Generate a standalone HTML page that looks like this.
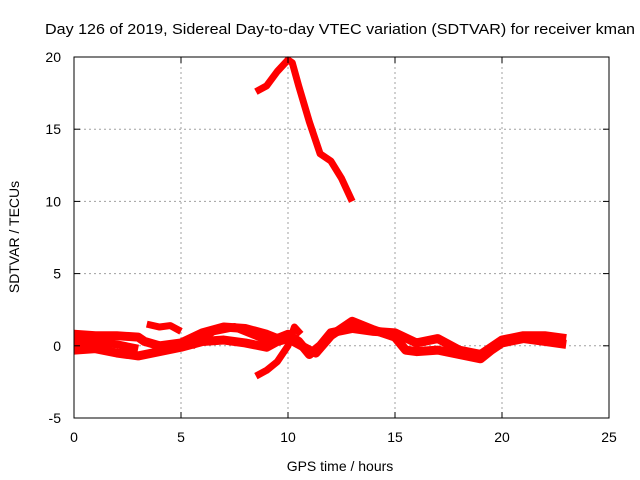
<!DOCTYPE html>
<html><head><meta charset="utf-8"><style>
body{margin:0;background:#fff;}
svg{display:block;font-family:"Liberation Sans",sans-serif;}
</style></head><body>
<svg id="chart" width="640" height="480">
<text x="45" y="34" font-size="15" textLength="590" lengthAdjust="spacingAndGlyphs">Day 126 of 2019, Sidereal Day-to-day VTEC variation (SDTVAR) for receiver kman</text>
<text x="340" y="471" font-size="14" text-anchor="middle">GPS time / hours</text>
<text transform="translate(19,237) rotate(-90)" font-size="14" text-anchor="middle">SDTVAR / TECUs</text>
<g id="grid"></g><g id="series"></g>
<rect x="74" y="57" width="535" height="361" fill="none" stroke="#000" stroke-width="1"/>
<g id="ticks"></g>
</svg>
<script>
const xTicks=[0,5,10,15,20,25];
const yTicks=[-5,0,5,10,15,20];
const sTop=[[8.5,17.6],[9,18],[9.5,19],[10,19.8],[10.2,19.6],[10.5,18],[11,15.5],[11.5,13.3],[12,12.8],[12.5,11.6],[13,10]];
const sUpper=[[0,0.8],[1,0.7],[2,0.7],[3,0.6],[3.3,0.3],[4,0],[5,0.2],[6,0.9],[7,1.3],[8,1.2],[9,0.8],[9.5,0.5],[10,0.8],[10.5,0.3],[11,-0.6],[11.5,0],[12,0.9],[13,1.2],[14,1.0],[15,0.9],[16,0.2],[17,0.5],[18,-0.3],[19,-0.6],[20,0.4],[21,0.7],[22,0.7],[23,0.5]];
const sLower=[[0,-0.3],[1,-0.2],[2,-0.5],[3,-0.7],[4,-0.4],[5,-0.1],[6,0.3],[7,0.4],[8,0.2],[9,-0.1],[9.5,0.3],[10,0.5],[11,-0.3],[11.3,-0.5],[12,0.7],[13,1.7],[14,1.1],[15,0.6],[15.5,-0.3],[16,-0.4],[17,-0.3],[18,-0.6],[19,-0.9],[19.5,-0.3],[20,0.2],[21,0.5],[22,0.3],[23,0.1]];
const sBump=[[3.4,1.5],[4,1.3],[4.5,1.4],[5,1.0]];
const sMid=[[0,0.3],[1,0.3],[2,0.1],[3,-0.2]];
const sRise=[[8.5,-2.1],[9,-1.7],[9.5,-1.1],[10,0],[10.3,1.3],[10.6,0.8]];
const sArc=[[5.5,0],[6.5,1.0],[7.5,1.3],[8.5,0.7],[9.3,0.2]];
const X=v=>74+v*535/25, Y=v=>418-(v+5)*361/25;
const NS='http://www.w3.org/2000/svg';
const g=document.getElementById('grid'),t=document.getElementById('ticks'),s=document.getElementById('series');
function mk(tag,a,p){const e=document.createElementNS(NS,tag);for(const k in a)e.setAttribute(k,a[k]);p.appendChild(e);return e;}
xTicks.forEach(v=>{
 if(v>0&&v<25){const l=mk('line',{x1:X(v),x2:X(v),y1:57,y2:418,stroke:'#a0a0a0','stroke-dasharray':'2,3'},g);
 
 }
 const tx=mk('text',{x:X(v),y:442,'font-size':14,'text-anchor':'middle'},t);tx.textContent=v;
 
 
 mk('line',{x1:X(v),x2:X(v),y1:418,y2:412,stroke:'#000'},t);mk('line',{x1:X(v),x2:X(v),y1:57,y2:63,stroke:'#000'},t);
});
yTicks.forEach(v=>{
 if(v>-5&&v<20){const l=mk('line',{x1:74,x2:609,y1:Y(v),y2:Y(v),stroke:'#a0a0a0','stroke-dasharray':'2,3'},g);
 
 }
 const tx=mk('text',{x:61,y:Y(v)+5,'font-size':14,'text-anchor':'end'},t);tx.textContent=v;
 
 
 mk('line',{x1:74,x2:80,y1:Y(v),y2:Y(v),stroke:'#000'},t);mk('line',{x1:609,x2:603,y1:Y(v),y2:Y(v),stroke:'#000'},t);
});
[[sTop,'series-top',7],[sUpper,'series-upper',9],[sLower,'series-lower',9],[sBump,'series-bump',7],[sMid,'series-mid',8],[sRise,'series-rise',7],[sArc,'series-arc',8]].forEach(([d,n,w])=>{
 const p=mk('polyline',{points:d.map(q=>X(q[0])+','+Y(q[1])).join(' '),fill:'none',stroke:'#ff0000','stroke-width':w,'stroke-linejoin':'round'},s);
 
 
});
</script>
</body></html>
